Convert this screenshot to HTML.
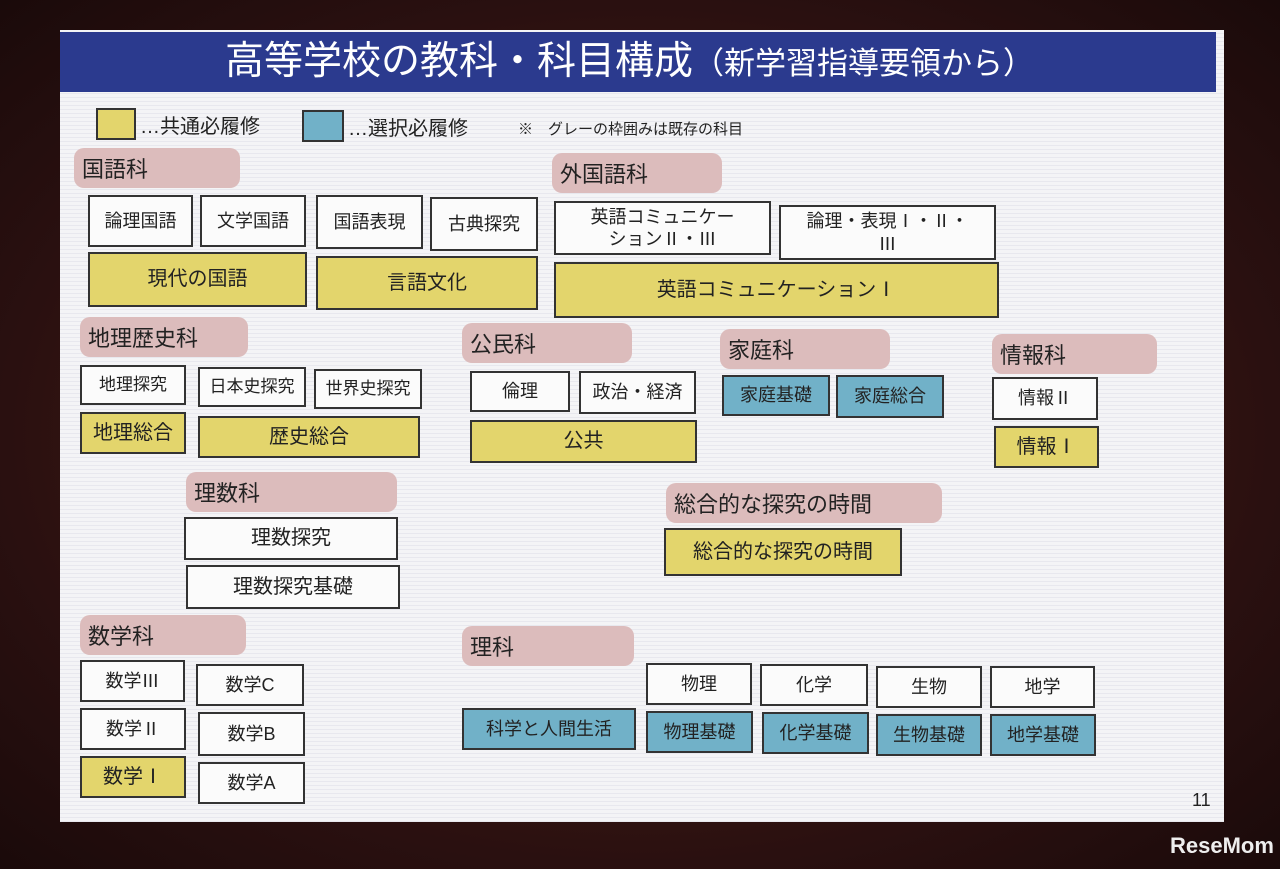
<!DOCTYPE html>
<html><head><meta charset="utf-8"><style>
body{margin:0;width:1280px;height:869px;overflow:hidden;background:#241010;font-family:"Liberation Sans","Noto Sans CJK JP",sans-serif;position:relative}
.bgfade{position:absolute;left:0;top:0;width:1280px;height:869px;background:radial-gradient(ellipse at 50% 50%,#5a2418 0%,#2a1010 70%,#1a0a0a 100%)}
.slide{position:absolute;left:60px;top:30px;width:1164px;height:792px;background:repeating-linear-gradient(#f4f4f6 0 3px,#e8e8ee 3px 4px)}
.title{position:absolute;left:60px;top:32px;width:1156px;height:60px;background:#2b3a8e;color:#fff;font-size:39px;line-height:60px;text-align:left;white-space:nowrap}
.b{position:absolute;box-sizing:border-box;border:2px solid #333;background:#fbfbfb;color:#222;font-size:18px;display:flex;align-items:center;justify-content:center;text-align:center;line-height:1.25}
.y{background:#e3d56c}
.t{background:#71b1c8}
.p{position:absolute;box-sizing:border-box;background:#dcbcbc;border-radius:10px;color:#222;font-size:22px;display:flex;align-items:center;padding-left:8px}
.tx{position:absolute;color:#222}
</style></head><body>
<div class="bgfade"></div>
<div class="slide"></div>
<div class="title"><span style="margin-left:165px">高等学校の教科・科目構成</span><span style="font-size:31px">（新学習指導要領から）</span></div>

<div class="b y" style="left:96px;top:108px;width:40px;height:32px"></div>
<div class="tx" style="left:140px;top:110px;font-size:20px">…共通必履修</div>
<div class="b t" style="left:302px;top:110px;width:42px;height:32px"></div>
<div class="tx" style="left:348px;top:112px;font-size:20px">…選択必履修</div>
<div class="tx" style="left:518px;top:118px;font-size:15px">※　グレーの枠囲みは既存の科目</div>

<div class="p" style="left:74px;top:148px;width:166px;height:40px">国語科</div>
<div class="b" style="left:88px;top:195px;width:105px;height:52px">論理国語</div>
<div class="b" style="left:200px;top:195px;width:106px;height:52px">文学国語</div>
<div class="b" style="left:316px;top:195px;width:107px;height:54px">国語表現</div>
<div class="b" style="left:430px;top:197px;width:108px;height:54px">古典探究</div>
<div class="b y" style="left:88px;top:252px;width:219px;height:55px;font-size:20px">現代の国語</div>
<div class="b y" style="left:316px;top:256px;width:222px;height:54px;font-size:20px">言語文化</div>

<div class="p" style="left:552px;top:153px;width:170px;height:40px">外国語科</div>
<div class="b" style="left:554px;top:201px;width:217px;height:54px">英語コミュニケー<br>ションⅡ・Ⅲ</div>
<div class="b" style="left:779px;top:205px;width:217px;height:55px">論理・表現Ⅰ・Ⅱ・<br>Ⅲ</div>
<div class="b y" style="left:554px;top:262px;width:445px;height:56px;font-size:20px">英語コミュニケーションⅠ</div>

<div class="p" style="left:80px;top:317px;width:168px;height:40px">地理歴史科</div>
<div class="b" style="left:80px;top:365px;width:106px;height:40px;font-size:17px">地理探究</div>
<div class="b" style="left:198px;top:367px;width:108px;height:40px;font-size:17px">日本史探究</div>
<div class="b" style="left:314px;top:369px;width:108px;height:40px;font-size:17px">世界史探究</div>
<div class="b y" style="left:80px;top:412px;width:106px;height:42px;font-size:20px">地理総合</div>
<div class="b y" style="left:198px;top:416px;width:222px;height:42px;font-size:20px">歴史総合</div>

<div class="p" style="left:462px;top:323px;width:170px;height:40px">公民科</div>
<div class="b" style="left:470px;top:371px;width:100px;height:41px">倫理</div>
<div class="b" style="left:579px;top:371px;width:117px;height:43px">政治・経済</div>
<div class="b y" style="left:470px;top:420px;width:227px;height:43px;font-size:20px">公共</div>

<div class="p" style="left:720px;top:329px;width:170px;height:40px">家庭科</div>
<div class="b t" style="left:722px;top:375px;width:108px;height:41px">家庭基礎</div>
<div class="b t" style="left:836px;top:375px;width:108px;height:43px">家庭総合</div>

<div class="p" style="left:992px;top:334px;width:165px;height:40px">情報科</div>
<div class="b" style="left:992px;top:377px;width:106px;height:43px">情報Ⅱ</div>
<div class="b y" style="left:994px;top:426px;width:105px;height:42px;font-size:20px">情報Ⅰ</div>

<div class="p" style="left:186px;top:472px;width:211px;height:40px">理数科</div>
<div class="b" style="left:184px;top:517px;width:214px;height:43px;font-size:20px">理数探究</div>
<div class="b" style="left:186px;top:565px;width:214px;height:44px;font-size:20px">理数探究基礎</div>

<div class="p" style="left:666px;top:483px;width:276px;height:40px">総合的な探究の時間</div>
<div class="b y" style="left:664px;top:528px;width:238px;height:48px;font-size:20px">総合的な探究の時間</div>

<div class="p" style="left:80px;top:615px;width:166px;height:40px">数学科</div>
<div class="b" style="left:80px;top:660px;width:105px;height:42px">数学Ⅲ</div>
<div class="b" style="left:80px;top:708px;width:106px;height:42px">数学Ⅱ</div>
<div class="b y" style="left:80px;top:756px;width:106px;height:42px;font-size:20px">数学Ⅰ</div>
<div class="b" style="left:196px;top:664px;width:108px;height:42px">数学C</div>
<div class="b" style="left:198px;top:712px;width:107px;height:44px">数学B</div>
<div class="b" style="left:198px;top:762px;width:107px;height:42px">数学A</div>

<div class="p" style="left:462px;top:626px;width:172px;height:40px">理科</div>
<div class="b" style="left:646px;top:663px;width:106px;height:42px">物理</div>
<div class="b" style="left:760px;top:664px;width:108px;height:42px">化学</div>
<div class="b" style="left:876px;top:666px;width:106px;height:42px">生物</div>
<div class="b" style="left:990px;top:666px;width:105px;height:42px">地学</div>
<div class="b t" style="left:462px;top:708px;width:174px;height:42px">科学と人間生活</div>
<div class="b t" style="left:646px;top:711px;width:107px;height:42px">物理基礎</div>
<div class="b t" style="left:762px;top:712px;width:107px;height:42px">化学基礎</div>
<div class="b t" style="left:876px;top:714px;width:106px;height:42px">生物基礎</div>
<div class="b t" style="left:990px;top:714px;width:106px;height:42px">地学基礎</div>

<div class="tx" style="left:1192px;top:790px;font-size:18px">11</div>
<div class="tx" style="left:1170px;top:833px;font-size:22px;font-weight:bold;color:#eee">ReseMom</div>
</body></html>
